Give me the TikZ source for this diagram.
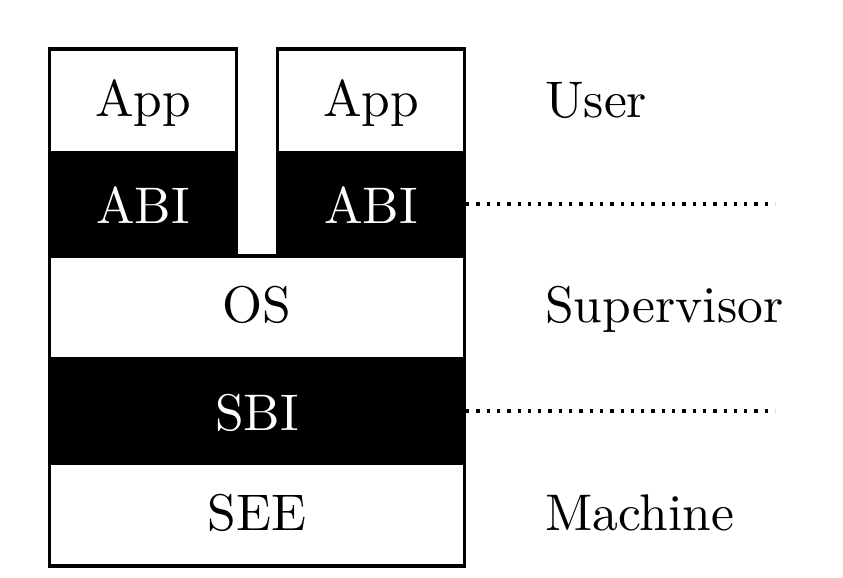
\documentclass[tikz,border=0pt]{standalone}
\usepackage{fontspec}
\setmainfont{lmroman10-regular.otf}
\begin{document}
\begin{tikzpicture}[x=1pt,y=-1pt,
  border/.style={draw=black,line width=3.3pt},
  lbl/.style={anchor=base,inner sep=0pt,font=\fontsize{51.5}{60}\selectfont},
  inv/.style={lbl,text=white},
  side/.style={anchor=base west,inner sep=0pt,font=\fontsize{51.5}{60}\selectfont},
  sep/.style={line width=3.3pt,dash pattern=on 3.3pt off 7pt}]
\useasboundingbox (0,0) rectangle (843,578);
% black bands
\fill[black] (49.7,151) rectangle (236.6,256);
\fill[black] (277.7,151) rectangle (464.3,256);
\fill[black] (49.7,357) rectangle (464.3,465);
% borders
\draw[border] (49.7,49) rectangle (236.6,256);
\draw[border] (277.7,49) rectangle (464.3,256);
\draw[border] (49.7,256) rectangle (464.3,566);
% labels in boxes
\node[lbl] (app1) at (143,116) {App};
\node[lbl] (app2) at (371,116) {App};
\node[inv] (abi1) at (143,223) {ABI};
\node[inv] (abi2) at (371,223) {ABI};
\node[lbl] (os) at (257,322) {OS};
\node[inv] (sbi) at (257,430) {SBI};
\node[lbl] (see) at (257,530) {SEE};
% side labels
\node[side] (user) at (545,117) {User};
\node[side] (sup) at (545,322) {Supervisor};
\node[side] (mach) at (545,530) {Machine};
% separators
\coordinate (abiE) at (466,204);
\coordinate (abiF) at (775,204);
\coordinate (sbiE) at (466,411);
\coordinate (sbiF) at (775,411);
\draw[sep] (abiE) -- (abiF);
\draw[sep] (sbiE) -- (sbiF);
\end{tikzpicture}
\end{document}
